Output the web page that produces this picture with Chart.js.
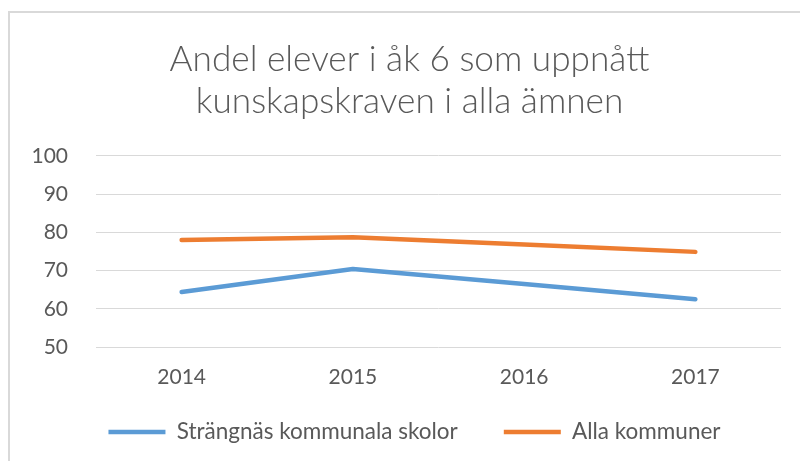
<!DOCTYPE html>
<html>
<head>
<meta charset="utf-8">
<script src="https://cdn.jsdelivr.net/npm/chart.js@4/dist/chart.umd.min.js"></script>
<style>
  html, body { margin: 0; padding: 0; background: #fff; }
  #wrap { position: relative; width: 800px; height: 461px; overflow: hidden; }
  #frame { position: absolute; left: 8px; top: 11px; width: 820px; height: 480px;
           border-left: 2px solid #D9D9D9; border-top: 2px solid #D9D9D9; box-sizing: border-box; }
  canvas { position: absolute; left: 0; top: 0; }
</style>
</head>
<body>
<div id="wrap">
  <div id="frame"></div>
  <canvas id="c" width="800" height="461"></canvas>
</div>
<script>
const titleLines = ["Andel elever i åk 6 som uppnått", "kunskapskraven i alla ämnen"];
const years = ["2014", "2015", "2016", "2017"];
const strangnas = [64.4, 70.4, 66.5, 62.5];
const allaKommuner = [78.0, 78.7, 76.8, 74.9];
const seriesNames = ["Strängnäs kommunala skolor", "Alla kommuner"];
const yTicks = [50, 60, 70, 80, 90, 100];

const FONT = "Lato, 'Open Sans', sans-serif";
const TXT = "#595959";

const boxShift = {
  id: 'boxShift',
  afterLayout(chart) {
    const lg = chart.legend;
    if (lg) {
      lg.left += 20; lg.right += 20;
      lg.top -= 16.25; lg.bottom -= 16.25;
    }
    const t = chart.titleBlock;
    if (t) { t.left += 15; t.right += 15; }
  }
};

new Chart(document.getElementById('c'), {
  type: 'line',
  data: {
    labels: years,
    datasets: [
      { label: seriesNames[0], data: strangnas, borderColor: '#5B9BD5', backgroundColor: '#5B9BD5',
        borderWidth: 4.5, borderCapStyle: 'round', borderJoinStyle: 'round', pointRadius: 0, tension: 0 },
      { label: seriesNames[1], data: allaKommuner, borderColor: '#ED7D31', backgroundColor: '#ED7D31',
        borderWidth: 4.5, borderCapStyle: 'round', borderJoinStyle: 'round', pointRadius: 0, tension: 0 }
    ]
  },
  options: {
    responsive: false,
    animation: false,
    devicePixelRatio: 1,
    layout: { padding: { left: 8, right: 19, top: 0, bottom: -8.5 } },
    plugins: {
      title: {
        display: true, text: titleLines, color: TXT,
        font: { family: FONT, size: 35.2, weight: '300', lineHeight: 1.193 },
        padding: { top: 39, bottom: 33 }
      },
      legend: {
        position: 'bottom',
        labels: {
          color: TXT, font: { family: FONT, size: 22.5 },
          usePointStyle: true, pointStyle: 'line', pointStyleWidth: 57,
          padding: 46
        }
      },
      tooltip: { enabled: false }
    },
    scales: {
      x: {
        offset: true,
        grid: { display: false, drawTicks: false },
        border: { display: false },
        ticks: { color: TXT, font: { family: FONT, size: 21 }, padding: 18 },
        afterFit(s) { s.height = 44; }
      },
      y: {
        min: 50, max: 100,
        afterBuildTicks(s) { s.ticks = yTicks.map(v => ({ value: v })); },
        grid: { color: '#D9D9D9', lineWidth: 1, drawTicks: false },
        border: { display: false },
        ticks: { color: TXT, font: { family: FONT, size: 21 }, padding: 28 },
        afterFit(s) { s.width = 88; }
      }
    }
  },
  plugins: [boxShift]
});
</script>
</body>
</html>
